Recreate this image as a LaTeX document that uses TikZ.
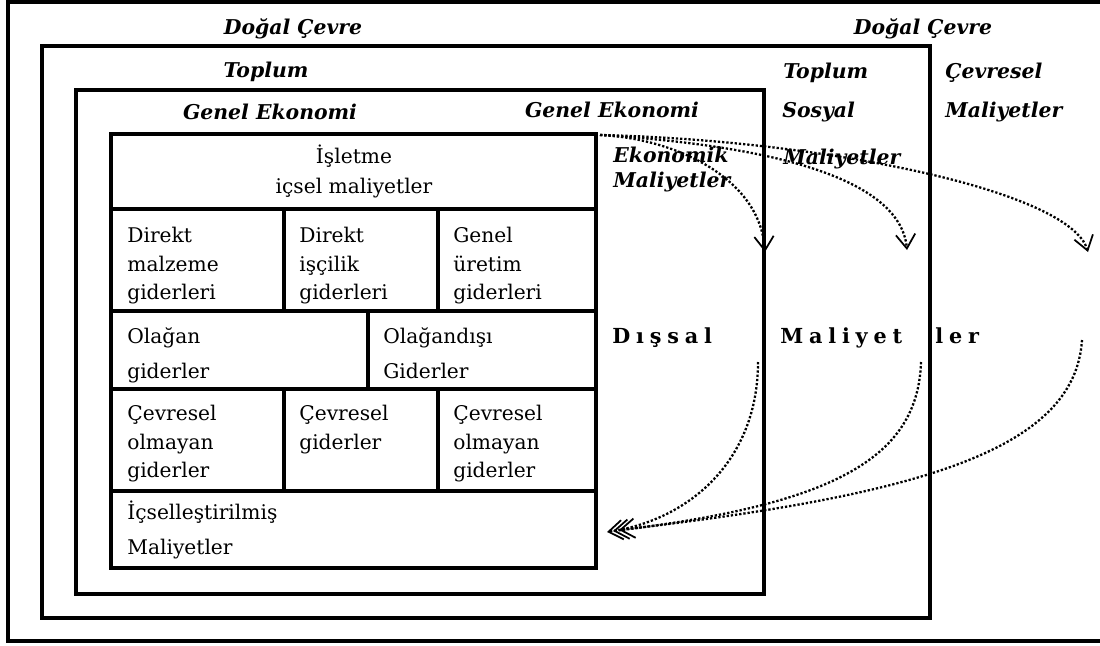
\documentclass[tikz,border=0pt]{standalone}
\usepackage{fontspec}
\newfontfamily\cellfont{DejaVu Serif}
\usetikzlibrary{arrows.meta}
\begin{document}
\begin{tikzpicture}[x=0.02cm, y=-0.02cm,
    frame/.style={line width=2.8pt},
    divider/.style={line width=2.5pt},
    lbl/.style={font=\cellfont\fontsize{11.6}{14}\selectfont\bfseries\itshape, inner sep=0pt},
    cell/.style={font=\cellfont\fontsize{11.5}{16.2}\selectfont, align=left, anchor=north west, inner sep=0pt},
    spaced/.style={font=\cellfont\fontsize{11.8}{14}\selectfont\bfseries\addfontfeatures{LetterSpace=28}, anchor=base west, inner sep=0pt},
    flow/.style={line width=1.3pt, dash pattern=on 1.3pt off 1.1pt, -{Straight Barb[length=8pt,width=11pt,line width=1pt]}}]
  \useasboundingbox (0,0) rectangle (1100,646);
  \fill[white] (0,0) rectangle (1100,646);
  \draw[frame] (8,2) rectangle (1110,641);
  \draw[frame] (42,46) rectangle (930,618);
  \draw[frame] (76,90) rectangle (764,594);
  \draw[frame] (111,134) rectangle (596,568);
  \draw[divider] (111,209) -- (596,209) (111,311) -- (596,311)
    (111,389) -- (596,389) (111,491) -- (596,491);
  \draw[divider] (284,209) -- (284,311) (438,209) -- (438,311)
    (368,311) -- (368,389) (284,389) -- (284,491) (438,389) -- (438,491);
  \draw
    (293,34) node[lbl, anchor=base] (dogal1){Doğal Çevre}
    (923,34) node[lbl, anchor=base] (dogal2){Doğal Çevre}
    (266,77) node[lbl, anchor=base] (toplum1){Toplum}
    (783,78) node[lbl, anchor=base west] (toplum2){Toplum}
    (945,78) node[lbl, anchor=base west] (cevresel){Çevresel}
    (945,117) node[lbl, anchor=base west] (cmaliyet){Maliyetler}
    (782,117) node[lbl, anchor=base west] (sosyal){Sosyal}
    (783,164) node[lbl, anchor=base west] (smaliyet){Maliyetler}
    (270,119) node[lbl, anchor=base] (genel1){Genel Ekonomi}
    (612,117) node[lbl, anchor=base] (genel2){Genel Ekonomi}
    (613,162) node[lbl, anchor=base west] (ekonomik){Ekonomik}
    (613,187) node[lbl, anchor=base west] (emaliyet){Maliyetler};
  \draw
    (354,145) node[cell, anchor=north, align=center] (isletme){İşletme\\[0.8pt]içsel maliyetler}
    (127,227) node[cell] (malzeme){Direkt\\malzeme\\giderleri}
    (299,227) node[cell] (iscilik){Direkt\\işçilik\\giderleri}
    (453,227) node[cell] (uretim){Genel\\üretim\\giderleri}
    (127,327) node[cell] (olagan){Olağan\\[3.6pt]giderler}
    (383,327) node[cell] (olagandisi){Olağandışı\\[3.6pt]Giderler}
    (127,405) node[cell] (olmayan1){Çevresel\\olmayan\\giderler}
    (299,405) node[cell] (cevgider){Çevresel\\giderler}
    (453,405) node[cell] (olmayan2){Çevresel\\olmayan\\giderler}
    (127,501) node[cell] (icsel){İçselleştirilmiş\\[3.6pt]Maliyetler};
  \draw
    (612,343) node[spaced] (dissal){Dışsal}
    (780,343) node[spaced] (maliyet){Maliyet}
    (935,343) node[spaced] (ler){ler};
  \coordinate (src) at (600,135);
  \coordinate (tipa) at (765,252);
  \coordinate (tipb) at (907,250);
  \coordinate (tipc) at (1088,252);
  \coordinate (froma) at (758,362);
  \coordinate (fromb) at (921,362);
  \coordinate (fromc) at (1082,340);
  \coordinate (enda) at (607,532);
  \coordinate (endb) at (613,531);
  \coordinate (endc) at (619,530);
  \begin{scope}[flow]
    \draw (src) .. controls (670,138) and (760,175) .. (tipa);
    \draw (src) .. controls (760,145) and (900,175) .. (tipb);
    \draw (src) .. controls (820,140) and (1070,190) .. (tipc);
    \draw (froma) .. controls (758,460) and (690,520) .. (enda);
    \draw (fromb) .. controls (918,460) and (830,505) .. (endb);
    \draw (fromc) .. controls (1075,450) and (920,495) .. (endc);
  \end{scope}
\end{tikzpicture}
\end{document}
